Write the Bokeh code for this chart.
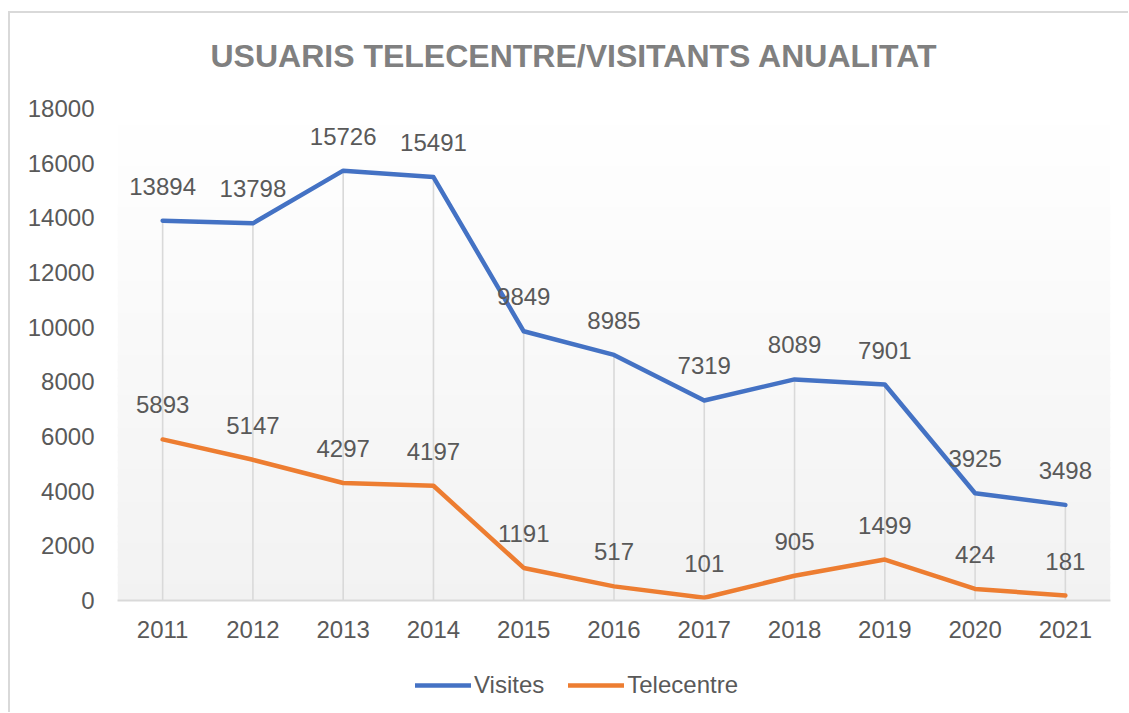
from bokeh.plotting import figure
from bokeh.layouts import column
from bokeh.models import FixedTicker, Legend, LegendItem, BoxAnnotation, Title
from bokeh.core.properties import value
from bokeh.embed import file_html
from bokeh.resources import INLINE

# ---- data ----
years = ["2011", "2012", "2013", "2014", "2015", "2016", "2017", "2018", "2019", "2020", "2021"]
visites = [13894, 13798, 15726, 15491, 9849, 8985, 7319, 8089, 7901, 3925, 3498]
telecentre = [5893, 5147, 4297, 4197, 1191, 517, 101, 905, 1499, 424, 181]
y_ticks = [0, 2000, 4000, 6000, 8000, 10000, 12000, 14000, 16000, 18000]
series_names = ["Visites", "Telecentre"]
title_text = "USUARIS TELECENTRE/VISITANTS ANUALITAT"

FONT = "Liberation Sans"
TXT = "#595959"
BLUE = "#4472C4"
ORANGE = "#ED7D31"

y_max = y_ticks[-1]

p = figure(x_range=years, y_range=(0, y_max),
           frame_width=993, frame_height=492,
           min_border_left=117, min_border_right=18,
           min_border_top=108, min_border_bottom=50,
           output_backend="svg", toolbar_location=None)

p.title = Title(text=title_text, align="left", offset=93,
                text_font=FONT, text_font_size="32px", text_font_style="bold",
                text_color="#808080", standoff=70)

p.background_fill_color = "white"
p.border_fill_alpha = 0
p.outline_line_color = None

# gradient plot area (white at top to light grey at bottom)
N = 60
for i in range(N):
    b = y_max * i / N
    t = y_max * (i + 1) / N + y_max * 0.004
    f = (i + 0.5) / N
    v = int(round(242 + 13 * f))
    p.add_layout(BoxAnnotation(bottom=b, top=t, fill_color=(v, v, v), fill_alpha=1.0,
                               line_alpha=0, level="underlay"))

# drop lines
p.segment(x0=years, y0=[0] * len(years), x1=years, y1=visites,
          line_color="#d9d9d9", line_width=1.6)

p.line(years, visites, line_color=BLUE, line_width=4.5, line_cap="round", line_join="round")
p.line(years, telecentre, line_color=ORANGE, line_width=4.5, line_cap="round", line_join="round")

for vals in (visites, telecentre):
    p.text(x=years, y=vals, text=[str(v) for v in vals], text_align="center",
           text_baseline="bottom", y_offset=-26, text_font=value(FONT),
           text_font_size="24px", text_color=TXT)

# axes
p.xgrid.grid_line_color = None
p.ygrid.grid_line_color = None
p.xaxis.axis_line_color = "#d9d9d9"
p.xaxis.axis_line_width = 2
p.xaxis.major_tick_line_color = None
p.xaxis.minor_tick_line_color = None
p.xaxis.major_label_text_font = FONT
p.xaxis.major_label_text_font_size = "24px"
p.xaxis.major_label_text_color = TXT
p.xaxis.major_label_standoff = 14

p.yaxis.ticker = FixedTicker(ticks=y_ticks)
p.yaxis.axis_line_color = None
p.yaxis.major_tick_line_color = None
p.yaxis.minor_tick_line_color = None
p.yaxis.major_label_text_font = FONT
p.yaxis.major_label_text_font_size = "24px"
p.yaxis.major_label_text_color = TXT
p.yaxis.major_label_standoff = 17

# ---- legend strip below the chart (series kept outside its visible range) ----
lg = figure(x_range=years, y_range=(-2, -1), frame_width=1128, frame_height=62, min_border=0,
            x_axis_type=None, y_axis_type=None,
            output_backend="svg", toolbar_location=None)
lg.border_fill_alpha = 0
lg.background_fill_alpha = 0
lg.outline_line_color = None
lg.xgrid.grid_line_color = None
lg.ygrid.grid_line_color = None
l1 = lg.line(years, visites, line_color=BLUE, line_width=4.5, line_cap="round")
l2 = lg.line(years, telecentre, line_color=ORANGE, line_width=4.5, line_cap="round")

legend = Legend(items=[LegendItem(label=series_names[0], renderers=[l1]),
                       LegendItem(label=series_names[1], renderers=[l2])],
                orientation="horizontal", location=(415, 13),
                padding=0, margin=0, border_line_color=None, background_fill_alpha=0,
                label_text_font=FONT, label_text_font_size="24px", label_text_color=TXT,
                glyph_width=56, label_standoff=3, spacing=24)
lg.add_layout(legend)

layout = column(p, lg, spacing=0)
layout.styles = {
    "background": "linear-gradient(#d9d9d9, #d9d9d9) 8px 11px / 100% 2px no-repeat, "
                  "linear-gradient(#d9d9d9, #d9d9d9) 8px 11px / 2px 100% no-repeat, #ffffff"
}

open("out.html", "w").write(file_html(layout, INLINE))
